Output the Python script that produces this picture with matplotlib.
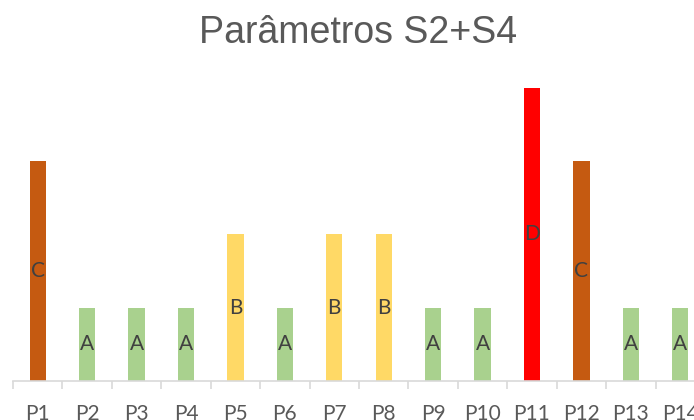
import matplotlib.pyplot as plt

# dados do gráfico
categorias = ['P1', 'P2', 'P3', 'P4', 'P5', 'P6', 'P7',
              'P8', 'P9', 'P10', 'P11', 'P12', 'P13', 'P14']
classes = ['C', 'A', 'A', 'A', 'B', 'A', 'B', 'B', 'A', 'A', 'D', 'C', 'A', 'A']
nivel = {'A': 1, 'B': 2, 'C': 3, 'D': 4}
cores = {'A': '#A9D18E', 'B': '#FFD966', 'C': '#C55A11', 'D': '#FF0000'}

valores = [nivel[c] for c in classes]

fig = plt.figure(figsize=(6.94, 4.2), dpi=100)
# área do gráfico passa um pouco da borda direita
ax = fig.add_axes([13 / 694, 39 / 420, 692 / 694, 308 / 420])

x = range(len(categorias))
barras = ax.bar(x, valores, width=0.33, color=[cores[c] for c in classes])

for b, c in zip(barras, classes):
    ax.text(b.get_x() + b.get_width() / 2, b.get_height() / 2, c,
            ha='center', va='center', fontsize=15, color='#404040',
            family=['Lato', 'DejaVu Sans'])

ax.set_xlim(-0.5, len(categorias) - 0.5)
ax.set_ylim(0, 4.2)
ax.set_xticks([i - 0.5 for i in range(len(categorias) + 1)])
ax.set_xticklabels([])
ax.set_xticks(list(x), minor=True)
ax.set_xticklabels(categorias, minor=True, fontsize=15, color='#595959',
                   family=['Lato', 'DejaVu Sans'])
ax.tick_params(axis='x', which='major', length=6, width=1.2, color='#D9D9D9',
               direction='out')
ax.tick_params(axis='x', which='minor', length=0, pad=16.5)
ax.set_yticks([])

for lado in ['top', 'right', 'left']:
    ax.spines[lado].set_visible(False)
ax.spines['bottom'].set_color('#D9D9D9')
ax.spines['bottom'].set_linewidth(1.2)

fig.text(358 / 694, 1 - 33 / 420, 'Parâmetros S2+S4', ha='center', va='center',
         fontsize=27, color='#595959', family=['Liberation Sans', 'DejaVu Sans'])

fig.savefig('out.png', dpi=100)
